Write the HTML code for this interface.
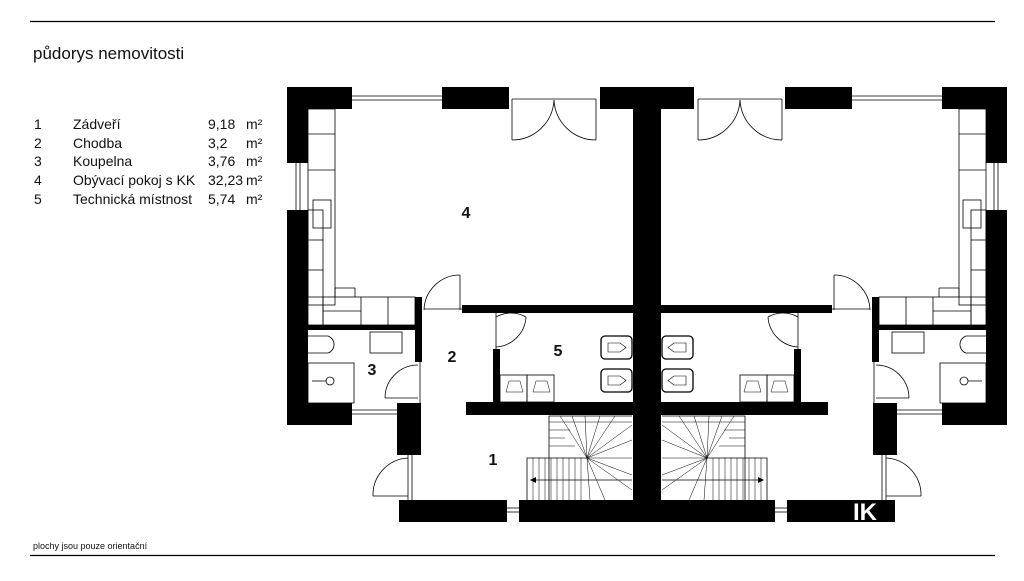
<!DOCTYPE html>
<html><head><meta charset="utf-8"><style>
html,body{margin:0;padding:0;background:#fff;}
body{width:1024px;height:576px;overflow:hidden;font-family:"Liberation Sans",sans-serif;}
</style></head><body>
<svg width="1024" height="576" viewBox="0 0 1024 576" xmlns="http://www.w3.org/2000/svg" font-family="Liberation Sans, sans-serif">
<line x1="30" y1="21.5" x2="995" y2="21.5" stroke="#000" stroke-width="1.2"/>
<line x1="30" y1="555.5" x2="995" y2="555.5" stroke="#000" stroke-width="1.2"/>
<text x="33" y="59" font-size="17" fill="#111">půdorys nemovitosti</text>
<g font-size="14" fill="#111">
<text x="34" y="129">1</text><text x="73" y="129">Zádveří</text><text x="208" y="129">9,18</text><text x="246" y="129">m²</text>
<text x="34" y="148">2</text><text x="73" y="148">Chodba</text><text x="208" y="148">3,2</text><text x="246" y="148">m²</text>
<text x="34" y="166">3</text><text x="73" y="166">Koupelna</text><text x="208" y="166">3,76</text><text x="246" y="166">m²</text>
<text x="34" y="185">4</text><text x="73" y="185">Obývací pokoj s KK</text><text x="208" y="185">32,23</text><text x="246" y="185">m²</text>
<text x="34" y="204">5</text><text x="73" y="204">Technická místnost</text><text x="208" y="204">5,74</text><text x="246" y="204">m²</text>
</g>
<text x="33" y="549" font-size="9" fill="#111">plochy jsou pouze orientační</text>

<defs>
<g id="half">
<!-- walls -->
<g fill="#000">
<rect x="287" y="87" width="65" height="22"/>
<rect x="287" y="87" width="21" height="76"/>
<rect x="442" y="87" width="67" height="22"/>
<rect x="600" y="87" width="47" height="22"/>
<rect x="633" y="87" width="14" height="435"/>
<rect x="287" y="210" width="21" height="215"/>
<rect x="287" y="403" width="65" height="22"/>
<rect x="397" y="403" width="24" height="52"/>
<rect x="415" y="297" width="7" height="65"/>
<rect x="308" y="325" width="107" height="5"/>
<rect x="462" y="305" width="171" height="8"/>
<rect x="493" y="349" width="7" height="54"/>
<rect x="466" y="402" width="167" height="13"/>
<rect x="399" y="500" width="108" height="22"/>
<rect x="519" y="500" width="114" height="22"/>
</g>
<g fill="none" stroke="#000" stroke-width="0.8">
<!-- windows -->
<line x1="352" y1="96" x2="442" y2="96"/><line x1="352" y1="100" x2="442" y2="100"/>
<line x1="296" y1="163" x2="296" y2="210"/><line x1="300" y1="163" x2="300" y2="210"/>
<line x1="352" y1="410" x2="397" y2="410"/><line x1="352" y1="414" x2="397" y2="414"/>
<line x1="507" y1="508" x2="519" y2="508"/><line x1="507" y1="512" x2="519" y2="512"/>
<!-- double door -->
<line x1="512" y1="99" x2="596" y2="99"/>
<line x1="512" y1="99" x2="512" y2="140"/><path d="M512 140 A42 42 0 0 0 554 100"/>
<line x1="596" y1="99" x2="596" y2="140"/><path d="M596 140 A42 42 0 0 1 554 100"/>
<!-- door 4-2 -->
<line x1="460" y1="275" x2="460" y2="310"/><path d="M460 275 A36 36 0 0 0 424 310"/>
<line x1="424" y1="309" x2="462" y2="309"/>
<!-- door 5 -->
<line x1="496" y1="313" x2="496" y2="349"/><path d="M496 317 A30 30 0 0 1 526 317" transform="translate(0,0)"/>
<path d="M496 347 A32 32 0 0 0 526 317"/>
<!-- bathroom door -->
<line x1="420" y1="362" x2="420" y2="403"/><path d="M418 365 A33 33 0 0 0 385 398"/><line x1="385" y1="398" x2="418" y2="398"/>
<!-- entrance door -->
<line x1="408" y1="455" x2="408" y2="500"/><line x1="412" y1="455" x2="412" y2="500"/>
<path d="M408 458 A37 37 0 0 0 373 496"/><line x1="373" y1="496" x2="408" y2="496"/>
<!-- stairs -->
<path d="M549 500 V416 H632 M527 500 V458 H587"/>
<line x1="532" y1="480" x2="632" y2="480"/>
<g stroke-width="0.5">
<line x1="533" y1="458" x2="533" y2="500"/><line x1="539" y1="458" x2="539" y2="500"/><line x1="545" y1="458" x2="545" y2="500"/>
<line x1="551" y1="458" x2="551" y2="500"/><line x1="557" y1="458" x2="557" y2="500"/><line x1="563" y1="458" x2="563" y2="500"/>
<line x1="569" y1="458" x2="569" y2="500"/><line x1="575" y1="458" x2="575" y2="500"/><line x1="581" y1="458" x2="581" y2="500"/>
<line x1="587" y1="458" x2="560" y2="416"/><line x1="587" y1="458" x2="572" y2="416"/><line x1="587" y1="458" x2="585" y2="416"/>
<line x1="587" y1="458" x2="600" y2="416"/><line x1="587" y1="458" x2="615" y2="416"/><line x1="587" y1="458" x2="632" y2="425"/>
<line x1="587" y1="458" x2="632" y2="440"/><line x1="587" y1="458" x2="632" y2="458"/><line x1="587" y1="458" x2="632" y2="475"/>
<line x1="587" y1="458" x2="632" y2="490"/><line x1="587" y1="458" x2="605" y2="500"/><line x1="587" y1="458" x2="590" y2="500"/>
<line x1="549" y1="422" x2="632" y2="422"/><line x1="549" y1="430" x2="570" y2="430"/><line x1="549" y1="438" x2="565" y2="438"/>
<line x1="549" y1="446" x2="575" y2="446"/>
</g>
<!-- kitchen -->
<rect x="308" y="109" width="27" height="196"/>
<line x1="308" y1="134" x2="335" y2="134"/><line x1="308" y1="170" x2="335" y2="170"/>
<rect x="313" y="200" width="18" height="28"/>
<rect x="308" y="210" width="15" height="115"/>
<line x1="308" y1="240" x2="323" y2="240"/><line x1="308" y1="270" x2="323" y2="270"/><line x1="308" y1="297" x2="323" y2="297"/>
<rect x="323" y="297" width="92" height="28"/>
<line x1="361" y1="297" x2="361" y2="325"/><line x1="388" y1="297" x2="388" y2="325"/>
<line x1="335" y1="288" x2="335" y2="297"/><line x1="335" y1="288" x2="355" y2="288"/><line x1="355" y1="288" x2="355" y2="297"/>
<line x1="323" y1="311" x2="361" y2="311"/>
<!-- bathroom -->
<path d="M308 336 H328 A9 9 0 0 1 328 353 H308"/>
<rect x="370" y="332" width="32" height="21"/>
<rect x="308" y="363" width="46" height="40"/>
<circle cx="330" cy="381" r="4"/><line x1="312" y1="381" x2="326" y2="381"/>
<!-- room5 -->
<rect x="500" y="375" width="27" height="27"/><rect x="527" y="375" width="27" height="27"/>
<path d="M506 392 L509 381 H520 L523 392 Z" stroke-width="0.5"/>
<path d="M533 392 L536 381 H547 L550 392 Z" stroke-width="0.5"/>
<rect x="601" y="336" width="31" height="23" rx="4" stroke-width="1.3"/>
<rect x="601" y="369" width="31" height="23" rx="4" stroke-width="1.3"/>
<path d="M608 343 H620 L626 347.5 L620 352 H608 Z" stroke-width="0.6"/>
<path d="M608 376 H620 L626 380.5 L620 385 H608 Z" stroke-width="0.6"/>
</g>
<polygon points="530,480 536,477 536,483" fill="#000"/>
</g>
</defs>
<use href="#half"/>
<use href="#half" transform="translate(1294,0) scale(-1,1)"/>
<rect x="835" y="500" width="60" height="22" fill="#000"/>
<text x="865" y="520" font-size="24" font-weight="bold" fill="#fff" text-anchor="middle">IK</text>

<g font-size="16" font-weight="bold" fill="#111" text-anchor="middle">
<text x="466" y="218">4</text>
<text x="452" y="362">2</text>
<text x="558" y="356">5</text>
<text x="372" y="375">3</text>
<text x="493" y="465">1</text>
</g>
</svg>
</body></html>
